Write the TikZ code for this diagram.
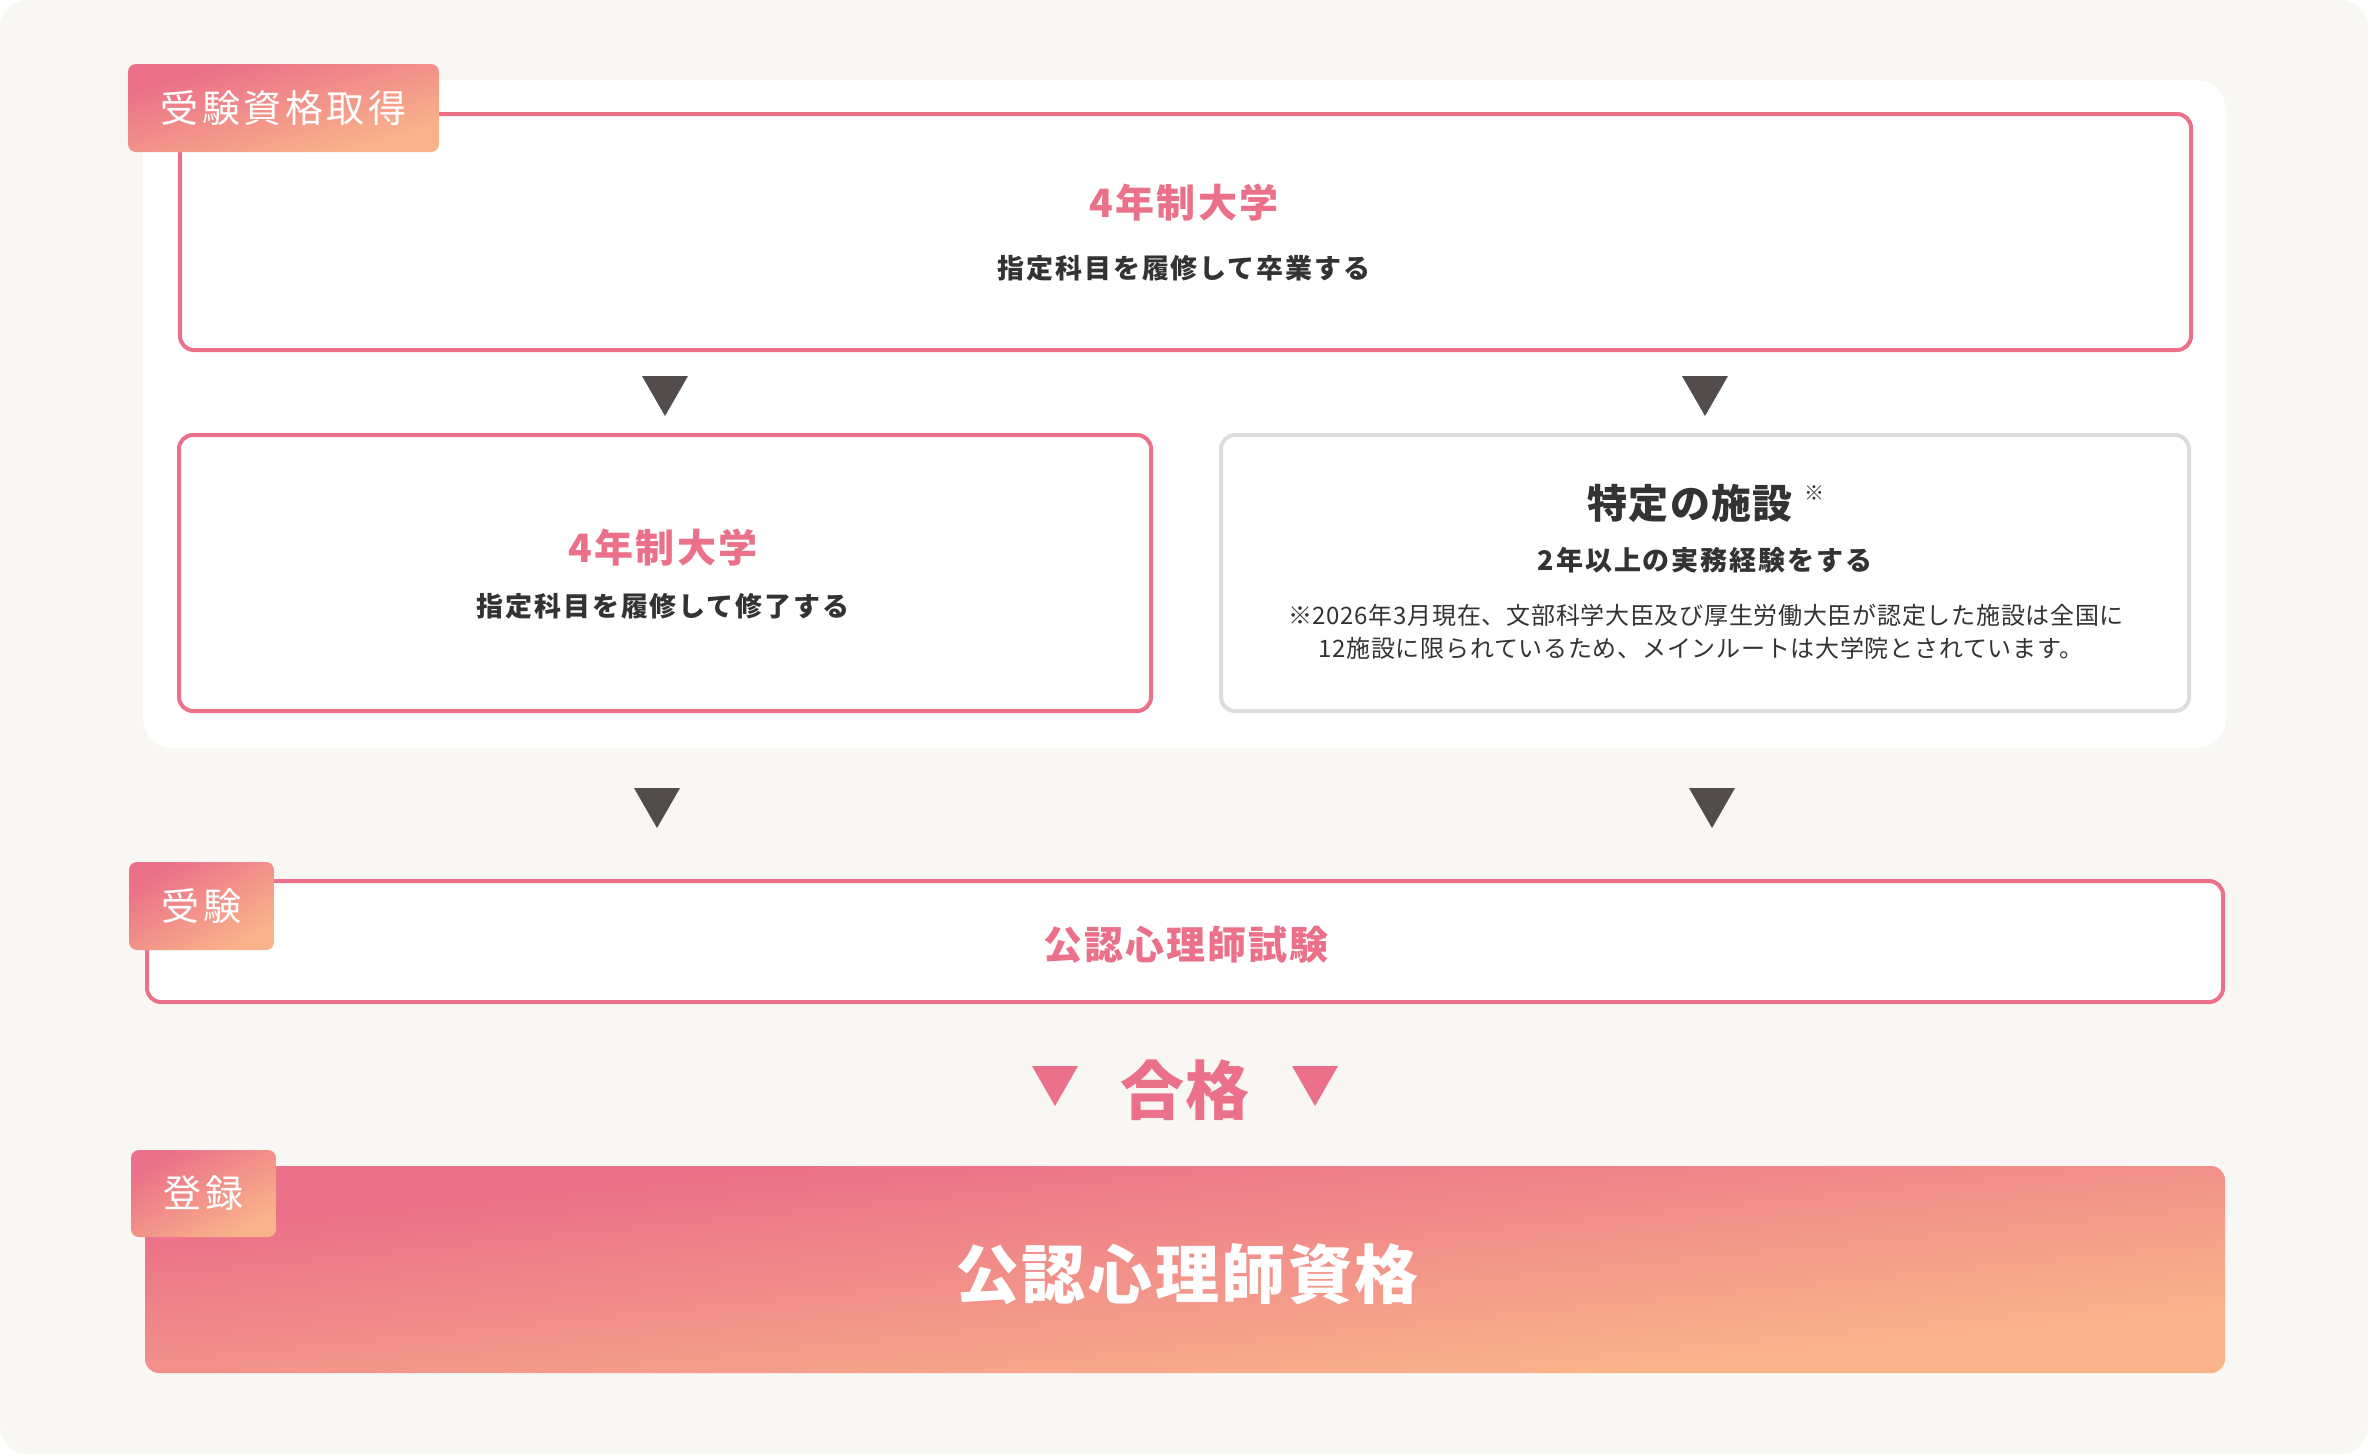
\documentclass[tikz,border=0pt]{standalone}
\usepackage{fontspec}
\setmainfont{Noto Sans CJK JP}
\definecolor{bgbeige}{HTML}{F8F7F3}
\definecolor{pinkc}{HTML}{EB7089}
\definecolor{peachc}{HTML}{F9B38A}
\definecolor{darkc}{HTML}{333333}
\definecolor{arrowc}{HTML}{524C4D}
\definecolor{grayb}{HTML}{DDDDDD}
\newcommand\fsz[2]{\fontsize{#1}{#1}\selectfont\addfontfeatures{LetterSpace=#2}}
% diagonal gradient (top-left pink to bottom-right peach) inside a rounded rectangle
\newcommand\gradfill[5]{%
  \begin{scope}
  \clip[rounded corners=#5] (#1,#2) rectangle (#3,#4);
  \pgfmathsetmacro\gcx{(#1+#3)/2}\pgfmathsetmacro\gcy{(#2+#4)/2}%
  \pgfmathsetmacro\gsx{abs(#3-#1)/100}\pgfmathsetmacro\gsy{abs(#4-#2)/100}%
  \begin{scope}[transform canvas={shift={(\gcx,\gcy)},xscale=\gsx,yscale=\gsy}]
    \shade[top color=pinkc,bottom color=peachc,shading angle=45] (-50,-50) rectangle (50,50);
  \end{scope}
  \end{scope}}
\tikzset{
  panel/.style={fill=white, rounded corners=30pt, inner sep=0pt, draw=none},
  pinkbox/.style={draw=pinkc, line width=4pt, fill=white, rounded corners=14pt, inner sep=0pt},
  graybox/.style={draw=grayb, line width=4pt, fill=white, rounded corners=14pt, inner sep=0pt},
  tag/.style={inner sep=0pt, draw=none, text=white, font=\fsz{38}{9}},
  pinktitle/.style={inner sep=0pt, text=pinkc, font=\bfseries\fsz{39}{6}},
  darksub/.style={inner sep=0pt, text=darkc, font=\bfseries\fsz{27}{7}},
  notetext/.style={inner sep=0pt, text=darkc, font=\fsz{24}{3}},
  darktri/.pic={\fill[arrowc] (-23,-20) -- (23,-20) -- (0,20) -- cycle;},
  pinktri/.pic={\fill[pinkc] (-23,-20) -- (23,-20) -- (0,20) -- cycle;},
}
\begin{document}
\begin{tikzpicture}[x=1pt,y=-1pt]
\useasboundingbox (0,0) rectangle (2368,1454);
\fill[white] (0,0) rectangle (2368,1454);
\fill[bgbeige, rounded corners=28pt] (0,0) rectangle (2368,1454);

% white panel
\node[panel, minimum width=2083pt, minimum height=668pt] (panel) at (1184.5,414) {};

% top box
\node[pinkbox, minimum width=2011pt, minimum height=236pt] (univ) at (1185.5,232) {};
\node[pinktitle] (univT) at (1184,203) {4年制大学};
\node[darksub] (univS) at (1184,268) {指定科目を履修して卒業する};

% arrows row 1
\pic at (665,396) {darktri};
\pic at (1705,396) {darktri};

% left box
\node[pinkbox, minimum width=972pt, minimum height=276pt] (grad) at (665,573) {};
\node[pinktitle] (gradT) at (663,548) {4年制大学};
\node[darksub] (gradS) at (663,606) {指定科目を履修して修了する};

% right box
\node[graybox, minimum width=968pt, minimum height=276pt] (fac) at (1705,573) {};
\node[inner sep=0pt, text=darkc, font=\bfseries\fsz{40}{3}] (facT) at (1690,503) {特定の施設};
\node[inner sep=0pt, text=darkc, font=\fsz{20}{0}] (facM) at (1814,493) {※};
\node[darksub] (facS) at (1705,560) {2年以上の実務経験をする};
\node[notetext] (facN1) at (1706,615) {※2026年3月現在、文部科学大臣及び厚生労働大臣が認定した施設は全国に};
\node[notetext] (facN2) at (1701,648) {12施設に限られているため、メインルートは大学院とされています。};

% tag 1
\gradfill{128}{64}{439}{152}{8pt}
\node[tag, minimum width=311pt, minimum height=88pt] (tag1) at (283.5,108) {受験資格取得};

% arrows row 2
\pic at (657,808) {darktri};
\pic at (1712,808) {darktri};

% exam box
\node[pinkbox, minimum width=2076pt, minimum height=121pt] (exam) at (1185,941.5) {};
\node[inner sep=0pt, text=pinkc, font=\bfseries\fsz{39}{5}] (examT) at (1186,945) {公認心理師試験};
\gradfill{129}{862}{274}{950}{8pt}
\node[tag, minimum width=145pt, minimum height=88pt] (tag2) at (201.5,906) {受験};

% pass
\pic at (1055,1086) {pinktri};
\pic at (1315,1086) {pinktri};
\node[inner sep=0pt, text=pinkc, font=\bfseries\fsz{64}{1}] (pass) at (1185,1090) {合格};

% final box
\gradfill{145}{1166}{2225}{1373}{14pt}
\node[inner sep=0pt, draw=none, minimum width=2080pt, minimum height=207pt] (final) at (1185,1269.5) {};
\node[inner sep=0pt, text=white, font=\bfseries\fsz{64}{4}] (finalT) at (1187,1274) {公認心理師資格};
\gradfill{131}{1150}{276}{1237}{8pt}
\node[tag, minimum width=145pt, minimum height=87pt] (tag3) at (203.5,1193.5) {登録};
\end{tikzpicture}
\end{document}
